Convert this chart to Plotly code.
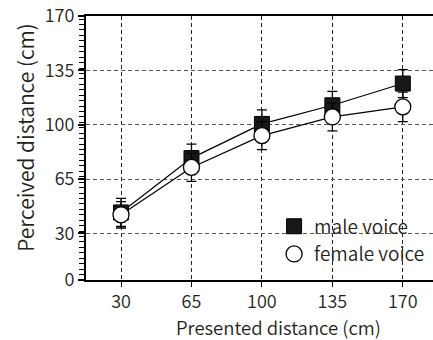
import plotly.graph_objects as go

presented = [30, 65, 100, 135, 170]
male_mean = [43.5, 78.5, 100.5, 112.5, 126.5]
male_err = [9, 9, 9, 9, 9]
female_mean = [42, 72.5, 93, 105, 111.5]
female_err = [8.5, 9, 9, 9, 9.5]
x_ticks = [30, 65, 100, 135, 170]
y_ticks = [0, 30, 65, 100, 135, 170]
x_title = "Presented distance (cm)"
y_title = "Perceived distance (cm)"

FONT = "Noto Sans CJK JP"
TXT = "#231f20"
W = 350

fig = go.Figure()
fig.add_trace(go.Scatter(
    x=presented, y=male_mean, mode="lines+markers", showlegend=False,
    line=dict(color="black", width=1.2),
    marker=dict(symbol="square", size=15, color="#1a1718", line=dict(color="black", width=1)),
    error_y=dict(type="data", array=male_err, color="black", thickness=1.3, width=5),
))
fig.add_trace(go.Scatter(
    x=presented, y=female_mean, mode="lines+markers", showlegend=False,
    line=dict(color="black", width=1.2),
    marker=dict(symbol="circle", size=16, color="white", line=dict(color="black", width=1.3)),
    error_y=dict(type="data", array=female_err, color="black", thickness=1.3, width=5),
))
fig.add_trace(go.Scatter(
    x=[None], y=[None], mode="markers", name="male voice",
    marker=dict(symbol="square", size=15, color="#1a1718", line=dict(color="black", width=1)),
))
fig.add_trace(go.Scatter(
    x=[None], y=[None], mode="markers", name="female voice",
    marker=dict(symbol="circle", size=16, color="white", line=dict(color="black", width=1.3)),
))

fig.update_layout(
    width=433, height=340,
    margin=dict(l=86, r=0, t=16, b=60, autoexpand=False),
    paper_bgcolor="white", plot_bgcolor="white",
    font=dict(family=FONT, size=18, color=TXT, weight=W),
    legend=dict(x=0.542, y=0.275, xanchor="left", yanchor="top",
                bgcolor="rgba(0,0,0,0)", font=dict(size=19, color=TXT, weight=W),
                tracegroupgap=0, itemwidth=30),
)
fig.add_annotation(text=x_title, xref="paper", yref="paper", x=0.556, y=-0.178,
                   xanchor="center", yanchor="middle", showarrow=False,
                   font=dict(size=18.5, color=TXT, weight=W))
fig.add_annotation(text=y_title, xref="paper", yref="paper", x=-0.176, y=0.542,
                   xanchor="center", yanchor="middle", showarrow=False, textangle=-90,
                   font=dict(size=21, color=TXT, weight=W))
fig.update_xaxes(
    range=[12.6, 185], tickvals=x_ticks, ticktext=[str(v) for v in x_ticks],
    automargin=False,
    showline=True, linecolor="black", linewidth=1.5, mirror=True,
    ticks="outside", ticklen=5, tickcolor="black", tickwidth=1.2,
    showgrid=True, gridcolor="#222", griddash="4px,3px", gridwidth=1,
    zeroline=False,
)
fig.update_yaxes(
    range=[0, 170], tickvals=y_ticks, ticktext=[str(v) for v in y_ticks],
    automargin=False,
    showline=True, linecolor="black", linewidth=2,
    ticks="outside", ticklen=6, tickcolor="black", tickwidth=1.5,
    minor=dict(dtick=3.5, tick0=0, ticks="outside", ticklen=5, tickcolor="black", tickwidth=1, showgrid=False),
    showgrid=True, gridcolor="#555", griddash="4px,3px", gridwidth=1,
    zeroline=False,
)
fig.write_html("out.html", config={"displayModeBar": False},
               post_script="document.body.style.margin='0';document.body.style.overflow='hidden';")
